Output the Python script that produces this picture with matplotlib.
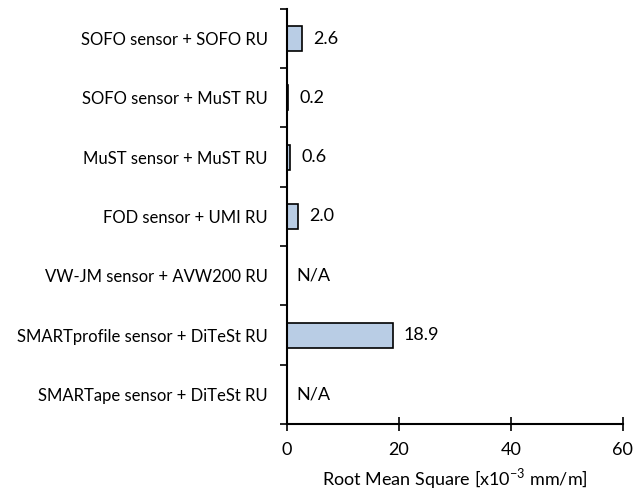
import numpy as np
import matplotlib.pyplot as plt

# Dados (de cima para baixo)
systems = ['SOFO sensor + SOFO RU', 'SOFO sensor + MuST RU', 'MuST sensor + MuST RU',
           'FOD sensor + UMI RU', 'VW-JM sensor + AVW200 RU',
           'SMARTprofile sensor + DiTeSt RU', 'SMARTape sensor + DiTeSt RU']
rms = [2.6, 0.2, 0.6, 2.0, None, 18.9, None]
x_ticks = [0, 20, 40, 60]

plt.rcParams['font.family'] = ['Lato', 'DejaVu Sans']

fig = plt.figure(figsize=(6.37, 4.92), dpi=100)
ax = fig.add_axes([0.4505, 0.138, 0.527, 0.844])

y = np.arange(len(systems))
vals = [v if v is not None else 0 for v in rms]
ax.barh(y, vals, height=0.42, color='#b9cde5', edgecolor='black', linewidth=1.2)

for yi, v in zip(y, rms):
    if v is None:
        ax.text(1.6, yi, 'N/A', va='center', ha='left', fontsize=13)
    else:
        ax.text(v + 2.0, yi, f'{v:.1f}', va='center', ha='left', fontsize=13)

ax.set_yticks(y)
ax.set_yticklabels(systems, fontsize=12)
ax.set_ylim(len(systems) - 0.5, -0.5)
ax.set_yticks(np.arange(len(systems) + 1) - 0.5, minor=True)
ax.tick_params(axis='y', which='major', length=0, pad=14)
ax.tick_params(axis='y', which='minor', length=5, width=1.2, direction='out')

ax.set_xlim(0, 60)
ax.set_xticks(x_ticks)
ax.tick_params(axis='x', labelsize=13, direction='inout', length=10, width=1.2, pad=8)
ax.set_xlabel('Root Mean Square [x10$^{\\mathregular{-3}}$ mm/m]', fontsize=13, labelpad=6)

for s in ['top', 'right']:
    ax.spines[s].set_visible(False)
for s in ['left', 'bottom']:
    ax.spines[s].set_linewidth(1.5)

fig.savefig('out.png', dpi=100)
